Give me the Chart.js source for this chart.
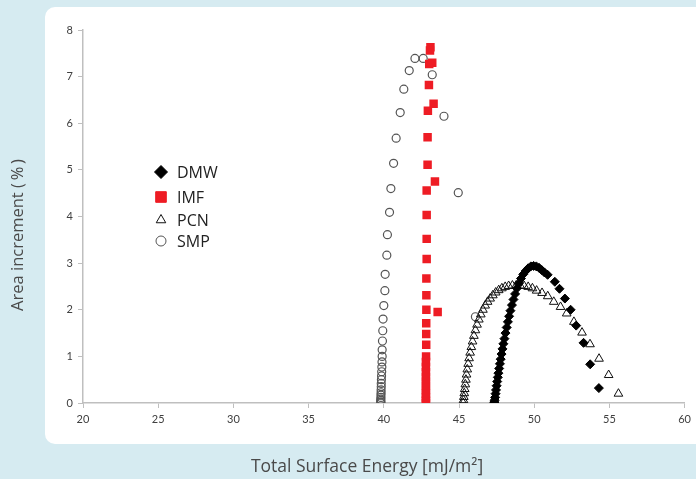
<!DOCTYPE html>
<html>
<head>
<meta charset="utf-8">
<script src="https://cdn.jsdelivr.net/npm/chart.js@4"></script>
<style>
  body { margin: 0; background: #d6ebf1; }
  #wrap { width: 696px; height: 479px; }
</style>
</head>
<body>
<div id="wrap"><canvas id="chart" width="696" height="479"></canvas></div>
<script>
// valeurs
const xTicks = [20, 25, 30, 35, 40, 45, 50, 55, 60];
const yTicks = [0, 1, 2, 3, 4, 5, 6, 7, 8];
const seriesNames = ['DMW', 'IMF', 'PCN', 'SMP'];

const dmwX = [47.34, 47.35, 47.37, 47.40, 47.43, 47.46, 47.50, 47.54, 47.58, 47.62, 47.67, 47.72, 47.77, 47.83, 47.89, 47.95,
  48.02, 48.09, 48.17, 48.25, 48.33, 48.42, 48.52, 48.62, 48.73, 48.85, 48.98, 49.12, 49.27, 49.43, 49.60, 49.78,
  49.96, 50.14, 50.32, 50.50, 50.68, 50.89, 51.37, 51.68, 52.04, 52.42, 52.79, 53.28, 53.72, 54.30];
const dmwY = [0.00, 0.02, 0.06, 0.12, 0.20, 0.28, 0.37, 0.46, 0.55, 0.64, 0.74, 0.84, 0.94, 1.05, 1.16, 1.27,
  1.38, 1.50, 1.62, 1.74, 1.86, 1.98, 2.10, 2.22, 2.34, 2.46, 2.57, 2.67, 2.76, 2.83, 2.89, 2.93,
  2.94, 2.93, 2.90, 2.85, 2.80, 2.75, 2.60, 2.45, 2.24, 2.00, 1.66, 1.29, 0.83, 0.32];

const imfX = [42.80, 42.80, 42.80, 42.80, 42.80, 42.80, 42.80, 42.80, 42.80, 42.80, 42.80, 42.81, 42.82, 42.82, 42.82,
  42.83, 43.58, 42.83, 42.83, 42.85, 42.85, 42.85, 42.85, 43.40, 42.91, 42.91, 42.93, 43.31, 43.00, 43.02, 43.22, 43.07, 43.10];
const imfY = [0.00, 0.05, 0.12, 0.20, 0.28, 0.37, 0.46, 0.56, 0.66, 0.77, 0.88, 1.00, 1.25, 1.48, 1.71,
  2.00, 1.95, 2.31, 2.67, 3.09, 3.52, 4.03, 4.56, 4.75, 5.11, 5.70, 6.27, 6.42, 6.82, 7.27, 7.30, 7.56, 7.63];

const pcnX = [45.28, 45.30, 45.32, 45.35, 45.38, 45.42, 45.46, 45.50, 45.55, 45.61, 45.67, 45.74, 45.82, 45.90, 45.99,
  46.09, 46.20, 46.32, 46.45, 46.59, 46.74, 46.90, 47.07, 47.25, 47.44, 47.64, 47.85, 48.07, 48.30, 48.55, 48.80,
  49.06, 49.33, 49.60, 49.88, 50.16, 50.52, 50.90, 51.30, 51.75, 52.16, 52.64, 53.18, 53.71, 54.31, 54.95, 55.60];
const pcnY = [0.00, 0.06, 0.13, 0.21, 0.30, 0.40, 0.50, 0.61, 0.72, 0.84, 0.96, 1.08, 1.20, 1.32, 1.44,
  1.56, 1.68, 1.79, 1.90, 2.00, 2.09, 2.17, 2.24, 2.31, 2.37, 2.42, 2.46, 2.49, 2.51, 2.52, 2.52,
  2.52, 2.51, 2.49, 2.46, 2.41, 2.36, 2.29, 2.17, 2.06, 1.92, 1.74, 1.51, 1.26, 0.95, 0.60, 0.20];

const smpX = [39.80, 39.80, 39.80, 39.80, 39.81, 39.81, 39.82, 39.82, 39.83, 39.83, 39.84, 39.85, 39.86, 39.87, 39.88,
  39.89, 39.89, 39.91, 39.93, 39.95, 40.00, 40.07, 40.09, 40.20, 40.24, 40.38, 40.47, 40.65, 40.82, 41.09, 41.33,
  41.69, 42.07, 42.62, 43.22, 44.00, 44.95, 46.09];
const smpY = [0.00, 0.02, 0.05, 0.08, 0.12, 0.17, 0.22, 0.28, 0.35, 0.42, 0.50, 0.58, 0.67, 0.77, 0.88,
  1.00, 1.14, 1.33, 1.55, 1.80, 2.09, 2.41, 2.76, 3.17, 3.61, 4.09, 4.60, 5.14, 5.68, 6.23, 6.73,
  7.13, 7.39, 7.39, 7.04, 6.15, 4.51, 1.85];

const toPoints = (xs, ys) => xs.map((x, i) => ({ x: x, y: ys[i] }));

const axisColor = '#bfbfbf';
const tickColor = '#404040';

// fond bleu + panneau blanc arrondi, titres des axes et légende dessinés à la main
const decorPlugin = {
    id: 'decor',
    beforeDraw(chart) {
        const ctx = chart.ctx;
        ctx.save();
        ctx.fillStyle = '#d6ebf1';
        ctx.fillRect(0, 0, chart.width, chart.height);
        ctx.fillStyle = '#ffffff';
        ctx.beginPath();
        ctx.roundRect(45, 7, 700, 437, 10);
        ctx.fill();
        ctx.restore();
    },
    afterDraw(chart) {
        const ctx = chart.ctx;
        ctx.save();
        // titre axe Y
        ctx.fillStyle = '#4a4a4a';
        ctx.font = '16.5px "Open Sans"';
        ctx.textAlign = 'center';
        ctx.textBaseline = 'middle';
        ctx.translate(18, 235);
        ctx.rotate(-Math.PI / 2);
        ctx.fillText('Area increment (\u2009%\u2009)', 0, 0);
        ctx.restore();

        // titre axe X
        ctx.save();
        ctx.fillStyle = '#4a4a4a';
        ctx.font = '17.5px "Open Sans"';
        ctx.textAlign = 'center';
        ctx.textBaseline = 'middle';
        ctx.fillText('Total Surface Energy [mJ/m²]', 367, 467);
        ctx.restore();

        // légende
        const rows = [172, 197, 220, 241];
        chart.data.datasets.forEach((ds, i) => {
            ctx.save();
            ctx.fillStyle = ds.pointBackgroundColor;
            ctx.strokeStyle = ds.pointBorderColor;
            ctx.lineWidth = 1;
            Chart.helpers.drawPoint(ctx, {
                pointStyle: ds.pointStyle,
                radius: ds.legendRadius,
                borderWidth: 1
            }, 161, rows[i]);
            ctx.fillStyle = '#222222';
            ctx.font = '16px "Open Sans"';
            ctx.textBaseline = 'middle';
            ctx.fillText(ds.label, 177, rows[i] + 1);
            ctx.restore();
        });
    }
};

new Chart(document.getElementById('chart').getContext('2d'), {
    type: 'scatter',
    data: {
        datasets: [{
            label: seriesNames[0],
            data: toPoints(dmwX, dmwY),
            pointStyle: 'rectRot',
            pointRadius: 4.5,
            pointBackgroundColor: '#000000',
            pointBorderColor: '#000000',
            pointBorderWidth: 1,
            legendRadius: 6.5
        }, {
            label: seriesNames[1],
            data: toPoints(imfX, imfY),
            pointStyle: 'rect',
            pointRadius: 6,
            pointBackgroundColor: '#ee1c24',
            pointBorderColor: '#ee1c24',
            pointBorderWidth: 0,
            legendRadius: 7.5
        }, {
            label: seriesNames[2],
            data: toPoints(pcnX, pcnY),
            pointStyle: 'triangle',
            pointRadius: 5,
            pointBackgroundColor: 'rgba(255,255,255,0)',
            pointBorderColor: '#111111',
            pointBorderWidth: 1,
            legendRadius: 5.5
        }, {
            label: seriesNames[3],
            data: toPoints(smpX, smpY),
            pointStyle: 'circle',
            pointRadius: 4,
            pointBackgroundColor: 'rgba(255,255,255,0)',
            pointBorderColor: '#555555',
            pointBorderWidth: 1.2,
            legendRadius: 5
        }]
    },
    options: {
        responsive: false,
        animation: false,
        layout: { padding: { top: 30, right: 8, left: 0, bottom: 0 } },
        plugins: {
            legend: { display: false },
            tooltip: { enabled: false }
        },
        elements: { point: { hoverRadius: 0 } },
        scales: {
            x: {
                type: 'linear',
                min: xTicks[0],
                max: xTicks[xTicks.length - 1],
                afterBuildTicks: scale => { scale.ticks = xTicks.map(v => ({ value: v })); },
                afterFit: scale => { scale.height = 76; },
                border: { color: axisColor, width: 1.5 },
                grid: { drawOnChartArea: false, drawTicks: true, tickLength: 5, color: axisColor },
                ticks: { color: tickColor, font: { family: 'Lato', size: 11 }, padding: 5, maxRotation: 0 }
            },
            y: {
                type: 'linear',
                min: yTicks[0],
                max: yTicks[yTicks.length - 1],
                afterBuildTicks: scale => { scale.ticks = yTicks.map(v => ({ value: v })); },
                afterFit: scale => { scale.width = 83; },
                border: { color: axisColor, width: 1.5 },
                grid: { drawOnChartArea: false, drawTicks: true, tickLength: 5, color: axisColor },
                ticks: { color: tickColor, font: { family: 'Lato', size: 11 }, padding: 5 }
            }
        }
    },
    plugins: [decorPlugin]
});
</script>
</body>
</html>
